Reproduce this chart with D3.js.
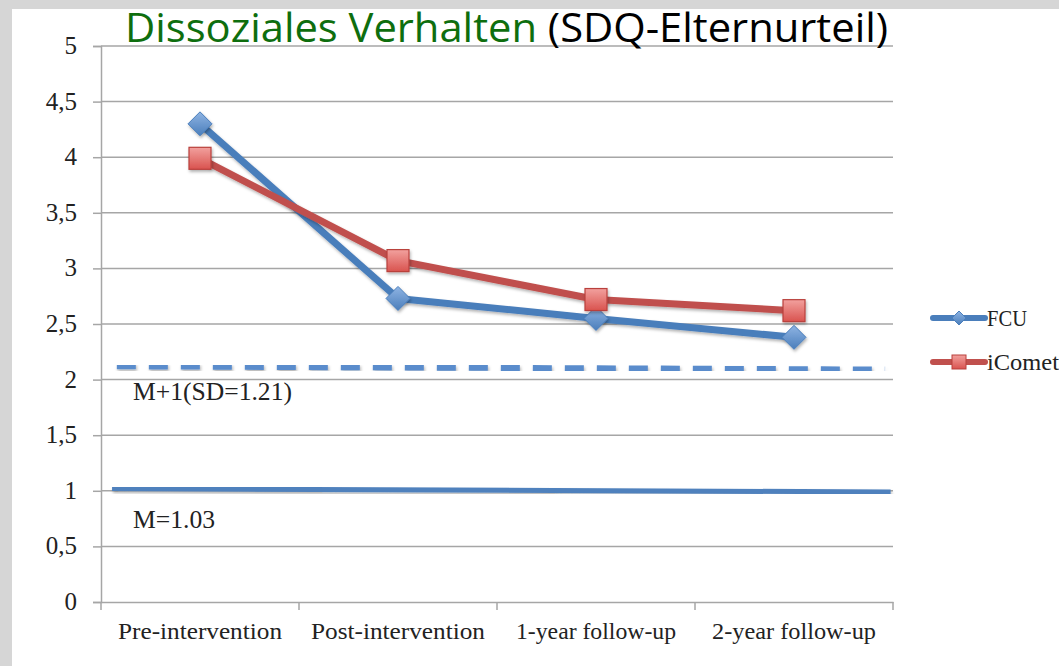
<!DOCTYPE html>
<html><head><meta charset="utf-8">
<script src="https://cdn.jsdelivr.net/npm/d3@7"></script>
<style>
html,body{margin:0;padding:0;background:#fff;overflow:hidden;}
svg{display:block;}
</style></head>
<body>
<svg id="chart" width="1059" height="666"></svg>
<script>
const categories = ["Pre-intervention","Post-intervention","1-year follow-up","2-year follow-up"];
const fcuValues = [4.30, 2.73, 2.55, 2.38];
const icometValues = [3.99, 3.07, 2.72, 2.62];
const yTicks = [0,0.5,1,1.5,2,2.5,3,3.5,4,4.5,5];
const refSD = [2.12, 2.09];   // dashed line start/end value
const refM = [1.02, 0.99];    // solid line start/end value
const refLabels = ["M+1(SD=1.21)","M=1.03"];
const seriesNames = ["FCU","iComet"];

(function(){
const svg = d3.select("#chart");
const W = 1059, H = 666;
svg.append("rect").attr("x",0).attr("y",0).attr("width",W).attr("height",H).attr("fill","#d6d6d6");
svg.append("rect").attr("x",12).attr("y",9).attr("width",W).attr("height",H).attr("fill","#fff");

const defs = svg.append("defs");
const f = defs.append("filter").attr("id","shadow").attr("x","-20%").attr("y","-20%").attr("width","140%").attr("height","160%");
f.append("feDropShadow").attr("dx",1).attr("dy",2).attr("stdDeviation",1.5).attr("flood-color","#000").attr("flood-opacity",0.3);
const gr = defs.append("linearGradient").attr("id","redg").attr("x1",0).attr("y1",0).attr("x2",0).attr("y2",1);
gr.append("stop").attr("offset","0%").attr("stop-color","#f2a19e");
gr.append("stop").attr("offset","100%").attr("stop-color","#d9534f");
const gb = defs.append("linearGradient").attr("id","blueg").attr("x1",0).attr("y1",0).attr("x2",0).attr("y2",1);
gb.append("stop").attr("offset","0%").attr("stop-color","#8fb4e3");
gb.append("stop").attr("offset","100%").attr("stop-color","#4a7ebb");

const mLeft = 101, mRight = 893, mTop = 46, mBottom = 602;
const y = d3.scaleLinear().domain([0,5]).range([mBottom, mTop]);
const xb = d3.scaleBand().domain(categories).range([mLeft, mRight]);
const xc = d => xb(d) + xb.bandwidth()/2;
const xr = d3.scaleLinear().domain([0,1]).range([mLeft, mRight]);

const serif = "'Liberation Serif','DejaVu Serif',serif";
const fit = (sel, w) => sel.attr("textLength", w).attr("lengthAdjust","spacingAndGlyphs");

// gridlines
svg.append("g").selectAll("line").data(yTicks.filter(t=>t>0)).join("line")
  .attr("x1",mLeft).attr("x2",mRight).attr("y1",d=>y(d)).attr("y2",d=>y(d))
  .attr("stroke","#a6a6a6").attr("stroke-width",1.5);

// y axis
const yAxis = svg.append("g").attr("transform",`translate(${mLeft},0)`)
  .call(d3.axisLeft(y).tickValues(yTicks).tickSize(8).tickPadding(16)
        .tickFormat(d=>String(d).replace(".",",")));
yAxis.select(".domain").attr("stroke","#a6a6a6").attr("stroke-width",1.5);
yAxis.selectAll(".tick line").attr("stroke","#a6a6a6").attr("stroke-width",1.5);
yAxis.selectAll(".tick text").attr("font-family",serif).attr("font-size",25).attr("fill","#222").attr("dy","0.3em");

// x axis
const xAxis = svg.append("g").attr("transform",`translate(0,${mBottom})`)
  .call(d3.axisBottom(xb).tickSize(0).tickPadding(20));
xAxis.select(".domain").attr("stroke","#a6a6a6").attr("stroke-width",1.5);
xAxis.selectAll(".tick text").attr("font-family",serif).attr("font-size",24).attr("fill","#222");
const xLabelW = [164, 174, 160, 164];
xAxis.selectAll(".tick text").each(function(d,i){ fit(d3.select(this), xLabelW[i]); });
svg.append("g").selectAll("line").data(d3.range(categories.length+1)).join("line")
  .attr("x1",d=>mLeft+d*xb.bandwidth()).attr("x2",d=>mLeft+d*xb.bandwidth())
  .attr("y1",mBottom).attr("y2",mBottom+8).attr("stroke","#a6a6a6").attr("stroke-width",1.5);

// reference lines
svg.append("line").attr("x1",xr(0.02)).attr("x2",xr(0.99)).attr("y1",y(refSD[0])).attr("y2",y(refSD[1]))
  .attr("stroke","#5a8ccc").attr("stroke-width",6).attr("stroke-dasharray","19 13").attr("filter","url(#shadow)");
svg.append("line").attr("x1",xr(0.014)).attr("x2",xr(0.997)).attr("y1",y(refM[0])).attr("y2",y(refM[1]))
  .attr("stroke","#4f81bd").attr("stroke-width",5).attr("filter","url(#shadow)");

const refText = svg.append("g").attr("font-family",serif).attr("font-size",25).attr("fill","#222");
fit(refText.append("text").attr("x",133).attr("y",y(2)+20).text(refLabels[0]), 159);
fit(refText.append("text").attr("x",133).attr("y",y(1)+37).text(refLabels[1]), 82);

// series lines
const line = d3.line().x((d,i)=>xc(categories[i])).y(d=>y(d));
svg.append("path").datum(fcuValues).attr("d",line).attr("fill","none")
  .attr("stroke","#4a7ebb").attr("stroke-width",7).attr("stroke-linejoin","round").attr("filter","url(#shadow)");
svg.append("path").datum(icometValues).attr("d",line).attr("fill","none")
  .attr("stroke","#c0504d").attr("stroke-width",7).attr("stroke-linejoin","round").attr("filter","url(#shadow)");

// markers
const diamond = s => `M0,${-s}L${s},0L0,${s}L${-s},0Z`;
svg.append("g").selectAll("path").data(fcuValues).join("path")
  .attr("transform",(d,i)=>`translate(${xc(categories[i])},${y(d)})`)
  .attr("d",diamond(12)).attr("fill","url(#blueg)").attr("stroke","#4a7ebb").attr("stroke-width",1).attr("filter","url(#shadow)");
svg.append("g").selectAll("rect").data(icometValues).join("rect")
  .attr("x",(d,i)=>xc(categories[i])-11).attr("y",d=>y(d)-11).attr("width",22).attr("height",22)
  .attr("fill","url(#redg)").attr("stroke","#b9403c").attr("stroke-width",1.2).attr("filter","url(#shadow)");

// legend
const lg = svg.append("g");
const legY = [318, 362];
const legCol = ["#4a7ebb","#c0504d"];
const legW = [40, 72];
seriesNames.forEach((n,i)=>{
  lg.append("line").attr("x1",933).attr("x2",985).attr("y1",legY[i]).attr("y2",legY[i])
    .attr("stroke",legCol[i]).attr("stroke-width",6).attr("stroke-linecap","round");
  if(i===0){
    lg.append("path").attr("transform",`translate(959,${legY[i]})`).attr("d",diamond(7)).attr("fill","url(#blueg)").attr("stroke","#4a7ebb");
  } else {
    lg.append("rect").attr("x",952).attr("y",legY[i]-7).attr("width",14).attr("height",14).attr("fill","url(#redg)").attr("stroke","#b9403c");
  }
  fit(lg.append("text").attr("x",987).attr("y",legY[i]+8).attr("font-family",serif).attr("font-size",23).attr("fill","#222").text(n), legW[i]);
});

// title
const title = svg.append("text").attr("x",125).attr("y",42)
  .attr("font-family","'Open Sans','Liberation Sans',sans-serif").attr("font-size",40);
title.append("tspan").attr("fill","#0e6e0e").text("Dissoziales Verhalten");
title.append("tspan").attr("fill","#000").text(" (SDQ-Elternurteil)");
fit(title, 763);
})();
</script>
</body></html>
